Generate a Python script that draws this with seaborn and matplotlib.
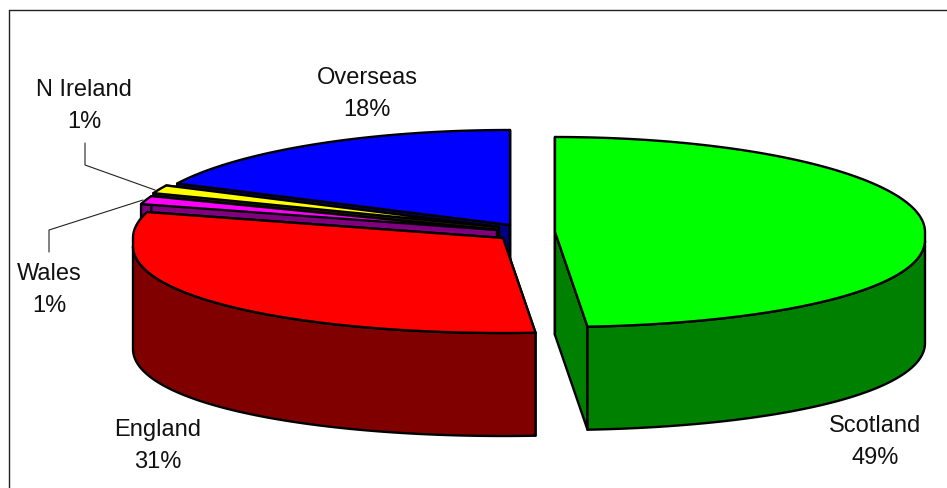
import numpy as np
import matplotlib
matplotlib.use('Agg')
import matplotlib.pyplot as plt
import seaborn as sns

# Valores
regions = ['Scotland', 'England', 'Wales', 'N Ireland', 'Overseas']
shares = [48.6, 30.8, 1.4, 1.4, 17.8]

top_colors = ['#00ff00', '#ff0000', '#ff00ff', '#ffff00', '#0000ff']
side_colors = ['#008000', '#800000', '#800080', '#202000', '#000080']

# Centro de cada porcion ya separada, en pixeles
apex = {'Scotland': (555, 232), 'England': (503, 238), 'Wales': (497, 230),
        'N Ireland': (499, 227), 'Overseas': (510, 225)}
label_pos = {'Scotland': (875, 442), 'England': (158, 446), 'Wales': (49, 290),
             'N Ireland': (84, 106), 'Overseas': (367, 94)}

RX, RY, DEPTH = 370, 95, 103

sns.set_theme(style='white')
plt.rcParams['font.family'] = ['Liberation Sans', 'DejaVu Sans']

fig = plt.figure(figsize=(9.47, 4.88), dpi=100)
ax = fig.add_axes([0, 0, 1, 1])
ax.set_xlim(0, 947)
ax.set_ylim(488, 0)
ax.axis('off')


def rim(cx, cy, theta):
    # el frente de la elipse cae un poco mas (perspectiva)
    y = cy - RY * np.cos(theta)
    y = y + np.where(np.cos(theta) < 0, 8 * np.sin(theta) ** 2, 0)
    return cx + RX * np.sin(theta), y


def draw_slice(name, start, end, top, side):
    cx, cy = apex[name]
    edge = dict(edgecolor='black', linewidth=1.7, joinstyle='round')
    theta = np.linspace(start, end, 200)
    x, y = rim(cx, cy, theta)

    # cara del corte
    ax.fill([cx, x[0], x[0], cx], [cy, y[0], y[0] + DEPTH, cy + DEPTH], facecolor=side, **edge)
    ax.fill([cx, x[-1], x[-1], cx], [cy, y[-1], y[-1] + DEPTH, cy + DEPTH], facecolor=side, **edge)

    # pared exterior, solo la parte de delante
    front = np.cos(theta) < 0
    if front.any():
        fx, fy = x[front], y[front]
        ax.fill(np.r_[fx, fx[::-1]], np.r_[fy, fy[::-1] + DEPTH], facecolor=side, **edge)

    ax.fill(np.r_[cx, x], np.r_[cy, y], facecolor=top, **edge)


cum = np.cumsum([0] + shares) / 100 * 2 * np.pi
order = [4, 3, 2, 1, 0]
for i in order:
    draw_slice(regions[i], cum[i], cum[i + 1], top_colors[i], side_colors[i])

# Lineas guia
ax.plot([85, 85, 155], [143, 165, 190], color='#222222', lw=0.8)
ax.plot([49, 49, 143], [252, 230, 200], color='#222222', lw=0.8)

# Marco (solo se ven arriba e izquierda)
ax.plot([9, 9], [488, 10], color='#222222', lw=1.0)
ax.plot([9, 947], [10, 10], color='#222222', lw=1.0)

for name, share in zip(regions, shares):
    px, py = label_pos[name]
    ax.text(px, py, f'{name}\n{share:.0f}%', ha='center', va='center',
            fontsize=17, color='#111111', linespacing=1.6)

plt.savefig('out.png', dpi=100)
plt.close()
